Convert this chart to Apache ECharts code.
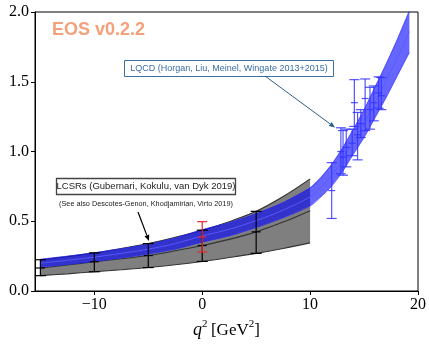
<!DOCTYPE html>
<html><head><meta charset="utf-8">
<script src="https://cdn.jsdelivr.net/npm/echarts@6/dist/echarts.min.js"></script>
<style>html,body{margin:0;padding:0;background:#fff}#c{width:429px;height:344px}</style>
</head><body><div id="c"></div>
<script>
// ---- data ----
const xTicks = [-10, 0, 10, 20];
const yTicks = [0, 0.5, 1.0, 1.5, 2.0];

// EOS fit band (blue)
const fitQ2 = [-15, -12.5, -10, -7.5, -5, -2.5, 0, 2.5, 5, 7.5, 10, 11, 12, 13, 14, 15, 16, 17, 18, 19.2];
const fitCen = [0.200, 0.220, 0.243, 0.270, 0.300, 0.340, 0.395, 0.442, 0.505, 0.580, 0.675, 0.745, 0.830, 0.940, 1.070, 1.200, 1.350, 1.500, 1.660, 1.860];
const fitLo = [0.172, 0.190, 0.212, 0.237, 0.265, 0.300, 0.350, 0.395, 0.455, 0.525, 0.610, 0.675, 0.752, 0.855, 0.980, 1.100, 1.240, 1.380, 1.530, 1.710];
const fitHi = [0.228, 0.250, 0.274, 0.303, 0.335, 0.380, 0.440, 0.490, 0.555, 0.635, 0.740, 0.815, 0.908, 1.025, 1.160, 1.300, 1.460, 1.620, 1.790, 2.010];

// LCSR band (gray)
const lcsrQ2 = [-15, -12.5, -10, -7.5, -5, -2.5, 0, 2.5, 5, 7.5, 10];
const lcsrCen = [0.165, 0.186, 0.210, 0.231, 0.254, 0.288, 0.326, 0.370, 0.424, 0.494, 0.576];
const lcsrLo = [0.110, 0.123, 0.138, 0.152, 0.168, 0.188, 0.212, 0.240, 0.270, 0.305, 0.345];
const lcsrHi = [0.224, 0.247, 0.273, 0.305, 0.340, 0.385, 0.436, 0.497, 0.571, 0.677, 0.804];

// LCSR points (black)
const lcsrPtQ2 = [-15, -10, -5, 0, 5];
const lcsrPtC = [0.165, 0.210, 0.254, 0.326, 0.424];
const lcsrPtLo = [0.110, 0.138, 0.168, 0.212, 0.270];
const lcsrPtHi = [0.224, 0.273, 0.340, 0.436, 0.571];

// red point at q2 = 0
const redQ2 = [0];
const redC = [0.387];
const redLo = [0.280];
const redHi = [0.497];

// LQCD points (blue)
const lqcdQ2 = [12.0, 12.85, 13.05, 13.35, 13.9, 14.1, 14.4, 14.7, 15.1, 15.55, 15.9, 16.35, 16.6];
const lqcdC = [0.72, 1.00, 0.96, 1.03, 1.06, 1.35, 1.12, 1.20, 1.38, 1.30, 1.35, 1.42, 1.40];
const lqcdLo = [0.52, 0.84, 0.83, 0.89, 0.97, 1.18, 0.94, 1.10, 1.15, 1.16, 1.22, 1.31, 1.30];
const lqcdHi = [0.92, 1.17, 1.15, 1.16, 1.16, 1.515, 1.28, 1.30, 1.52, 1.46, 1.47, 1.535, 1.53];

// ---- chart ----
const chart = echarts.init(document.getElementById('c'), null, {renderer: 'canvas'});

function bandSeries(xs, lo, hi, fill, z) {
  return {
    type: 'custom', z: z, silent: true, clip: true,
    data: [[xs[0], lo[0]]],
    renderItem: function (params, api) {
      const pts = [];
      for (let i = 0; i < xs.length; i++) pts.push(api.coord([xs[i], hi[i]]));
      for (let i = xs.length - 1; i >= 0; i--) pts.push(api.coord([xs[i], lo[i]]));
      return {type: 'polygon', shape: {points: pts, smooth: 0}, style: {fill: fill, stroke: null}};
    }
  };
}
function lineSeries(xs, ys, color, width, z) {
  return {
    type: 'line', z: z, silent: true, showSymbol: false, smooth: 0.35, clip: true,
    data: xs.map((x, i) => [x, ys[i]]),
    lineStyle: {color: color, width: width}
  };
}
function errSeries(xs, c, lo, hi, color, capW, midW, width, z) {
  return {
    type: 'custom', z: z, silent: true,
    data: xs.map((x, i) => [x, c[i], lo[i], hi[i]]),
    renderItem: function (params, api) {
      const x = api.value(0);
      const pc = api.coord([x, api.value(1)]);
      const pl = api.coord([x, api.value(2)]);
      const ph = api.coord([x, api.value(3)]);
      const st = {stroke: color, lineWidth: width};
      return {type: 'group', children: [
        {type: 'line', shape: {x1: pl[0], y1: pl[1], x2: ph[0], y2: ph[1]}, style: st},
        {type: 'line', shape: {x1: pl[0] - capW / 2, y1: pl[1], x2: pl[0] + capW / 2, y2: pl[1]}, style: st},
        {type: 'line', shape: {x1: ph[0] - capW / 2, y1: ph[1], x2: ph[0] + capW / 2, y2: ph[1]}, style: st},
        {type: 'line', shape: {x1: pc[0] - midW / 2, y1: pc[1], x2: pc[0] + midW / 2, y2: pc[1]}, style: st}
      ]};
    }
  };
}

function arrow(x1, y1, x2, y2, color, w, hl, hw) {
  const a = Math.atan2(y2 - y1, x2 - x1);
  const bx = x2 - hl * Math.cos(a), by = y2 - hl * Math.sin(a);
  const px = -Math.sin(a) * hw, py = Math.cos(a) * hw;
  return [
    {type: 'line', shape: {x1: x1, y1: y1, x2: bx, y2: by}, style: {stroke: color, lineWidth: w}, z: 100},
    {type: 'polygon', shape: {points: [[x2, y2], [bx + px, by + py], [bx - px, by - py]]}, style: {fill: color}, z: 100}
  ];
}

const serif = 'Liberation Serif';
const sans = 'Liberation Sans';

const option = {
  animation: false,
  backgroundColor: '#fff',
  grid: {left: 35, right: 10, top: 12, bottom: 46, show: true, borderColor: '#000', borderWidth: 1, backgroundColor: 'transparent'},
  xAxis: {
    type: 'value', min: -15.5, max: 20,
    axisLine: {show: true, onZero: false, lineStyle: {color: '#000', width: 1}},
    axisTick: {show: true, length: 4, customValues: xTicks, lineStyle: {color: '#000'}},
    axisLabel: {customValues: xTicks, margin: 6, color: '#000', fontFamily: serif, fontSize: 16,
      formatter: v => (v < 0 ? '\u2212' + Math.abs(v) : String(v))},
    splitLine: {show: false},
    name: '{i|q}{s|2} {n|[GeV}{s|2}{n|]}',
    nameLocation: 'middle', nameGap: 28,
    nameTextStyle: {
      rich: {
        i: {fontFamily: serif, fontStyle: 'italic', fontSize: 18, color: '#000', lineHeight: 20, verticalAlign: 'bottom'},
        n: {fontFamily: serif, fontSize: 17, color: '#000', lineHeight: 20, verticalAlign: 'bottom'},
        s: {fontFamily: serif, fontSize: 11, color: '#000', lineHeight: 20, verticalAlign: 'top'}
      }
    }
  },
  yAxis: {
    type: 'value', min: 0, max: 2, interval: 0.5,
    axisLine: {show: true, onZero: false, lineStyle: {color: '#000', width: 1}},
    axisTick: {show: true, length: 4, lineStyle: {color: '#000'}},
    axisLabel: {margin: 6, color: '#000', fontFamily: serif, fontSize: 16, formatter: v => v.toFixed(1)},
    splitLine: {show: false}
  },
  series: [
    bandSeries(lcsrQ2, lcsrLo, lcsrHi, '#7f7f7f', 1),
    lineSeries(lcsrQ2, lcsrHi, '#333333', 1.1, 2),
    lineSeries(lcsrQ2, lcsrCen, '#333333', 1.1, 2),
    lineSeries(lcsrQ2, lcsrLo, '#333333', 1.1, 2),
    bandSeries(fitQ2, fitLo, fitHi, 'rgba(0,0,255,0.6)', 3),
    lineSeries(fitQ2, fitHi, 'rgba(40,40,255,0.7)', 1, 4),
    lineSeries(fitQ2, fitCen, 'rgba(90,90,255,0.9)', 1, 4),
    lineSeries(fitQ2, fitLo, 'rgba(40,40,255,0.7)', 1, 4),
    errSeries(lcsrPtQ2, lcsrPtC, lcsrPtLo, lcsrPtHi, '#000', 11, 9, 1.2, 6),
    errSeries(redQ2, redC, redLo, redHi, '#e8282a', 10, 8, 1.2, 7),
    errSeries(lqcdQ2, lqcdC, lqcdLo, lqcdHi, 'rgba(50,50,255,0.85)', 10, 7, 1.2, 7)
  ],
  graphic: [
    {type: 'text', left: 52, top: 21, z: 100, style: {text: 'EOS v0.2.2', fill: '#f4a07a', font: 'bold 18px ' + sans}},
    {type: 'rect', shape: {x: 124.5, y: 60.5, width: 209, height: 16}, style: {fill: '#fff', stroke: '#3a6ea5', lineWidth: 1}, z: 100},
    {type: 'text', x: 229, y: 68.5, z: 101, style: {text: 'LQCD (Horgan, Liu, Meinel, Wingate 2013+2015)', fill: '#3a6ea5', font: '9px ' + sans, align: 'center', verticalAlign: 'middle'}},
    {type: 'rect', shape: {x: 56.5, y: 178.5, width: 179, height: 16}, style: {fill: '#fff', stroke: '#444', lineWidth: 1.3}, z: 100},
    {type: 'text', x: 146, y: 186.5, z: 101, style: {text: 'LCSRs (Gubernari, Kokulu, van Dyk 2019)', fill: '#222', font: '9.5px ' + sans, align: 'center', verticalAlign: 'middle'}},
    {type: 'text', x: 146, y: 203.5, z: 101, style: {text: '(See also Descotes-Genon, Khodjamirian, Virto 2019)', fill: '#222', font: '7.3px ' + sans, align: 'center', verticalAlign: 'middle'}}
  ].concat(arrow(265, 76, 335, 127.5, '#2c5f8a', 1, 6, 2.5)).concat(arrow(138, 212, 149, 241, '#000', 1.2, 6, 2.5))
};
chart.setOption(option);
</script>
</body></html>
